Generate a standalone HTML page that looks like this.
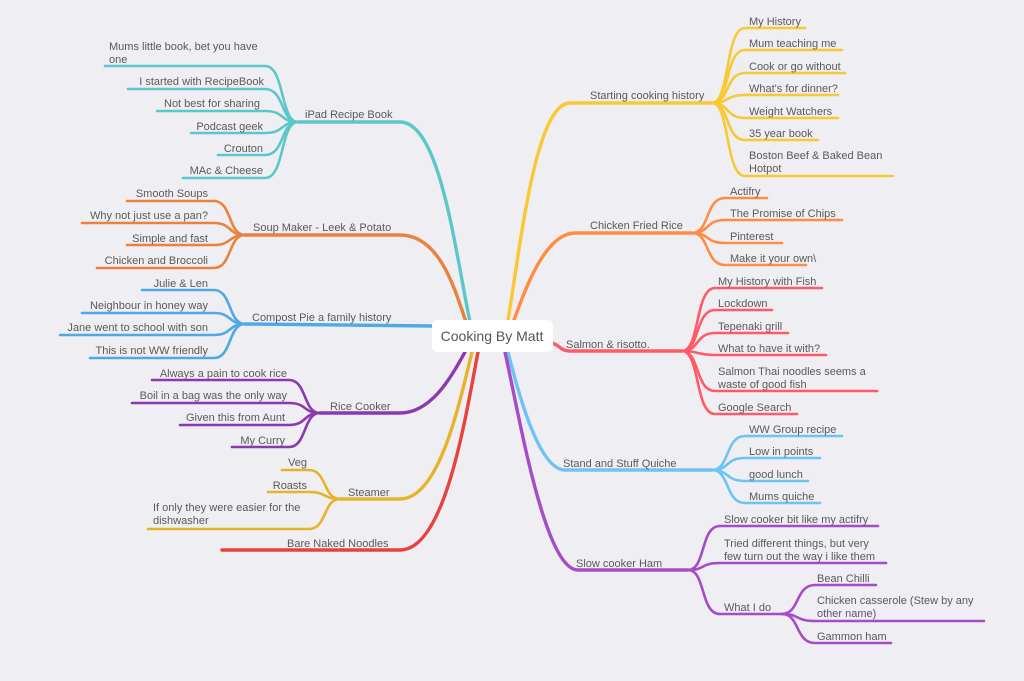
<!DOCTYPE html>
<html><head><meta charset="utf-8"><style>
html,body{margin:0;padding:0;background:#efeef3;}
svg{display:block;}
text{font-family:"Liberation Sans",sans-serif;font-size:11px;fill:#5a5a5a;}
path{fill:none;stroke-linecap:round;}
</style></head><body>
<svg width="1024" height="681" viewBox="0 0 1024 681">
<rect x="0" y="0" width="1024" height="681" fill="#efeef3"/>
<!-- LEFT: iPad -->
<g stroke="#5cc7cb" stroke-width="2.6">
<path d="M298,122 C280,122 285,66 265,66 L105,66"/>
<path d="M298,122 C280,122 285,89 265,89 L128,89"/>
<path d="M298,122 C280,122 285,111 265,111 L157,111"/>
<path d="M298,122 C280,122 285,133 265,133 L191,133"/>
<path d="M298,122 C280,122 285,155 265,155 L218,155"/>
<path d="M298,122 C280,122 285,178 265,178 L183,178"/>
<path stroke-width="3.4" d="M298,122 L400,122 C440,122 455,250 470,322"/>
</g>
<g stroke="#e8823c" stroke-width="2.6">
<path d="M245,235 C228,235 232,201 214,201 L127,201"/>
<path d="M245,235 C228,235 232,223 214,223 L82,223"/>
<path d="M245,235 C228,235 232,245 214,245 L127,245"/>
<path d="M245,235 C228,235 232,268 214,268 L97,268"/>
<path stroke-width="3.4" d="M245,235 L400,235 C440,235 455,290 466,322"/>
</g>
<g stroke="#4ea9e6" stroke-width="2.6">
<path d="M245,324 C228,324 232,290 214,290 L142,290"/>
<path d="M245,324 C228,324 232,313 214,313 L82,313"/>
<path d="M245,324 C228,324 232,335 214,335 L60,335"/>
<path d="M245,324 C228,324 232,358 214,358 L90,358"/>
<path stroke-width="3.4" d="M245,324 L432,326"/>
</g>
<g stroke="#8e38b0" stroke-width="2.6">
<path d="M320,413 C303,413 307,380 289,380 L152,380"/>
<path d="M320,413 C303,413 307,403 289,403 L132,403"/>
<path d="M320,413 C303,413 307,425 289,425 L180,425"/>
<path d="M320,413 C303,413 307,447 289,447 L232,447"/>
<path stroke-width="3.4" d="M320,413 L400,413 C430,413 450,380 465,352"/>
</g>
<g stroke="#e6b32a" stroke-width="2.6">
<path d="M340,499 C323,499 327,470 309,470 L282,470"/>
<path d="M340,499 C323,499 327,492 309,492 L268,492"/>
<path d="M340,499 C323,499 327,529 309,529 L148,529"/>
<path stroke-width="3.4" d="M340,499 L400,499 C440,499 460,400 472,352"/>
</g>
<g stroke="#e8413e" stroke-width="3.4">
<path d="M222,550 L400,550 C445,550 465,420 478,352"/>
</g>
<!-- RIGHT -->
<g stroke="#f9c833" stroke-width="2.6">
<path d="M712,103 C730,103 725,28 745,28 L805,28"/>
<path d="M712,103 C730,103 725,50 745,50 L842,50"/>
<path d="M712,103 C730,103 725,73 745,73 L845,73"/>
<path d="M712,103 C730,103 725,95 745,95 L838,95"/>
<path d="M712,103 C730,103 725,118 745,118 L838,118"/>
<path d="M712,103 C730,103 725,140 745,140 L818,140"/>
<path d="M712,103 C730,103 725,176 745,176 L893,176"/>
<path stroke-width="3.4" d="M712,103 L570,103 C535,103 520,250 508,320"/>
</g>
<g stroke="#ff8c45" stroke-width="2.6">
<path d="M692,233 C710,233 705,198 725,198 L767,198"/>
<path d="M692,233 C710,233 705,220 725,220 L842,220"/>
<path d="M692,233 C710,233 705,243 725,243 L782,243"/>
<path d="M692,233 C710,233 705,265 725,265 L806,265"/>
<path stroke-width="3.4" d="M692,233 L575,233 C545,233 525,290 514,320"/>
</g>
<g stroke="#ff5a68" stroke-width="2.6">
<path d="M682,351 C700,351 695,288 715,288 L822,288"/>
<path d="M682,351 C700,351 695,310 715,310 L772,310"/>
<path d="M682,351 C700,351 695,333 715,333 L788,333"/>
<path d="M682,351 C700,351 695,355 715,355 L826,355"/>
<path d="M682,351 C700,351 695,391 715,391 L877,391"/>
<path d="M682,351 C700,351 695,414 715,414 L797,414"/>
<path stroke-width="3.4" d="M682,351 L570,351 C560,351 560,345 552,343"/>
</g>
<g stroke="#6ec3f5" stroke-width="2.6">
<path d="M712,470 C730,470 725,436 745,436 L842,436"/>
<path d="M712,470 C730,470 725,458 745,458 L820,458"/>
<path d="M712,470 C730,470 725,481 745,481 L808,481"/>
<path d="M712,470 C730,470 725,503 745,503 L820,503"/>
<path stroke-width="3.4" d="M712,470 L565,470 C540,470 520,400 508,352"/>
</g>
<g stroke="#a64cc6" stroke-width="2.6">
<path d="M688,570 C706,570 700,526 720,526 L878,526"/>
<path d="M688,570 C706,570 700,563 720,563 L886,563"/>
<path d="M688,570 C706,570 700,614 720,614 L782,614"/>
<path d="M782,614 C800,614 795,585 815,585 L876,585"/>
<path d="M782,614 C800,614 795,621 815,621 L984,621"/>
<path d="M782,614 C800,614 795,643 815,643 L891,643"/>
<path stroke-width="3.4" d="M688,570 L578,570 C545,570 520,420 505,352"/>
</g>
<!-- center -->
<rect x="432" y="320" width="121" height="32" rx="5" fill="#fff"/>
<text x="492" y="341" text-anchor="middle" style="font-size:14px;fill:#555">Cooking By Matt</text>
<!-- left labels -->
<text x="305" y="118">iPad Recipe Book</text>
<text x="109" y="50">Mums little book, bet you have</text>
<text x="109" y="63">one</text>
<text x="264" y="85" text-anchor="end">I started with RecipeBook</text>
<text x="260" y="107" text-anchor="end">Not best for sharing</text>
<text x="263" y="130" text-anchor="end">Podcast geek</text>
<text x="263" y="152" text-anchor="end">Crouton</text>
<text x="263" y="174" text-anchor="end">MAc &amp; Cheese</text>
<text x="253" y="231">Soup Maker - Leek &amp; Potato</text>
<text x="208" y="197" text-anchor="end">Smooth Soups</text>
<text x="208" y="219" text-anchor="end">Why not just use a pan?</text>
<text x="208" y="242" text-anchor="end">Simple and fast</text>
<text x="208" y="264" text-anchor="end">Chicken and Broccoli</text>
<text x="252" y="321">Compost Pie a family history</text>
<text x="208" y="287" text-anchor="end">Julie &amp; Len</text>
<text x="208" y="309" text-anchor="end">Neighbour in honey way</text>
<text x="208" y="331" text-anchor="end">Jane went to school with son</text>
<text x="208" y="354" text-anchor="end">This is not WW friendly</text>
<text x="330" y="410">Rice Cooker</text>
<text x="287" y="377" text-anchor="end">Always a pain to cook rice</text>
<text x="287" y="399" text-anchor="end">Boil in a bag was the only way</text>
<text x="285" y="421" text-anchor="end">Given this from Aunt</text>
<text x="285" y="444" text-anchor="end">My Curry</text>
<text x="348" y="496">Steamer</text>
<text x="307" y="466" text-anchor="end">Veg</text>
<text x="307" y="489" text-anchor="end">Roasts</text>
<text x="153" y="511">If only they were easier for the</text>
<text x="153" y="524">dishwasher</text>
<text x="287" y="547">Bare Naked Noodles</text>
<!-- right labels -->
<text x="590" y="99">Starting cooking history</text>
<text x="749" y="25">My History</text>
<text x="749" y="47">Mum teaching me</text>
<text x="749" y="70">Cook or go without</text>
<text x="749" y="92">What's for dinner?</text>
<text x="749" y="115">Weight Watchers</text>
<text x="749" y="137">35 year book</text>
<text x="749" y="159">Boston Beef &amp; Baked Bean</text>
<text x="749" y="172">Hotpot</text>
<text x="590" y="229">Chicken Fried Rice</text>
<text x="730" y="195">Actifry</text>
<text x="730" y="217">The Promise of Chips</text>
<text x="730" y="240">Pinterest</text>
<text x="730" y="262">Make it your own\</text>
<text x="566" y="348">Salmon &amp; risotto.</text>
<text x="718" y="285">My History with Fish</text>
<text x="718" y="307">Lockdown</text>
<text x="718" y="330">Tepenaki grill</text>
<text x="718" y="352">What to have it with?</text>
<text x="718" y="375">Salmon Thai noodles seems a</text>
<text x="718" y="388">waste of good fish</text>
<text x="718" y="411">Google Search</text>
<text x="563" y="467">Stand and Stuff Quiche</text>
<text x="749" y="433">WW Group recipe</text>
<text x="749" y="455">Low in points</text>
<text x="749" y="478">good lunch</text>
<text x="749" y="500">Mums quiche</text>
<text x="576" y="567">Slow cooker Ham</text>
<text x="724" y="523">Slow cooker bit like my actifry</text>
<text x="724" y="547">Tried different things, but very</text>
<text x="724" y="560">few turn out the way i like them</text>
<text x="724" y="611">What I do</text>
<text x="817" y="582">Bean Chilli</text>
<text x="817" y="604">Chicken casserole (Stew by any</text>
<text x="817" y="617">other name)</text>
<text x="817" y="640">Gammon ham</text>
</svg>
</body></html>
